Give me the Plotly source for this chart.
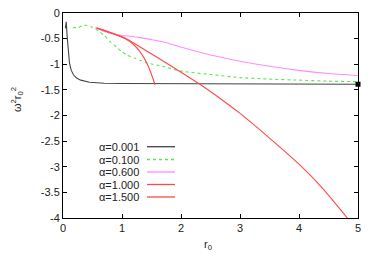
import plotly.graph_objects as go

# ---- data ----
x_a0001 = [0.04, 0.055, 0.07, 0.09, 0.11, 0.14, 0.18, 0.23, 0.3, 0.45, 0.7, 1.0, 2.0, 3.0, 4.0, 5.0]
y_a0001 = [-0.3, -0.17, -0.45, -0.8, -0.98, -1.12, -1.21, -1.27, -1.31, -1.35, -1.37, -1.375, -1.38, -1.385, -1.39, -1.39]

x_a0100 = [0.17, 0.25, 0.32, 0.40, 0.5, 0.59, 0.7, 0.79, 0.9, 0.99, 1.1, 1.21, 1.3, 1.41, 1.6, 1.72, 1.98, 2.5, 3.0, 3.5, 4.0, 4.5, 5.0]
y_a0100 = [-0.28, -0.29, -0.25, -0.24, -0.28, -0.34, -0.44, -0.55, -0.66, -0.75, -0.83, -0.88, -0.92, -0.97, -1.02, -1.05, -1.13, -1.2, -1.26, -1.29, -1.31, -1.33, -1.34]

x_a0600 = [0.54, 0.7, 0.88, 1.1, 1.3, 1.5, 1.72, 1.98, 2.5, 3.0, 3.5, 4.0, 4.5, 5.0]
y_a0600 = [-0.29, -0.36, -0.42, -0.45, -0.48, -0.52, -0.57, -0.66, -0.82, -0.94, -1.04, -1.12, -1.18, -1.22]

x_a1000 = [0.57, 0.8, 1.05, 1.2, 1.3, 1.38, 1.45, 1.5, 1.56]
y_a1000 = [-0.29, -0.38, -0.5, -0.62, -0.75, -0.89, -1.05, -1.2, -1.4]

x_a1500 = [0.57, 0.8, 1.05, 1.3, 1.6, 1.98, 2.32, 2.57, 2.99, 3.5, 4.01, 4.4, 4.82]
y_a1500 = [-0.29, -0.38, -0.49, -0.66, -0.87, -1.14, -1.39, -1.59, -1.95, -2.44, -2.96, -3.42, -4.0]

x_point = [5.0]
y_point = [-1.39]

labels = ["α=0.001", "α=0.100", "α=0.600", "α=1.000", "α=1.500"]
colors = ["#444444", "#55e855", "#ff8cff", "#ff4848", "#ff4848"]
dashes = ["solid", "dot", "solid", "solid", "solid"]
shapes = ["linear", "spline", "spline", "spline", "spline"]

xs = [x_a0001, x_a0100, x_a0600, x_a1000, x_a1500]
ys = [y_a0001, y_a0100, y_a0600, y_a1000, y_a1500]

fig = go.Figure()
for xv, yv, c, d, s in zip(xs, ys, colors, dashes, shapes):
    fig.add_trace(go.Scatter(x=xv, y=yv, mode="lines",
                             line=dict(color=c, width=1.1, dash=d, shape=s, smoothing=0.6),
                             showlegend=False, hoverinfo="skip"))
fig.add_trace(go.Scatter(x=x_point, y=y_point, mode="markers",
                         marker=dict(symbol="square", size=5, color="black"),
                         showlegend=False, cliponaxis=False))

# page offset of the figure inside the html body (default body margin)
OFF = 8
W, H = 374 - OFF, 262 - OFF
# desired plot area in page pixels: x 63..358, y 13..218
L, R, T, B = 63 - OFF, 374 - 358, 13 - OFF, 262 - 218
pw, ph = W - L - R, H - T - B

def px(xp):  # page x -> paper
    return (xp - OFF - L) / pw

def py(yp):  # page y -> paper
    return (H - B - (yp - OFF)) / ph

row_y = [146.7, 159.5, 172.0, 184.5, 197.0]
for lab, c, d, yy in zip(labels, colors, dashes, row_y):
    fig.add_annotation(x=px(141), y=py(yy), xref="paper", yref="paper",
                       text=lab, showarrow=False, xanchor="right", yanchor="middle",
                       font=dict(size=11, color="#222"))
    fig.add_shape(type="line", xref="paper", yref="paper",
                  x0=px(147), x1=px(175), y0=py(yy), y1=py(yy),
                  line=dict(color=c, width=1.3, dash=d))

# y axis label
fig.add_annotation(x=px(17), y=py(100), xref="paper", yref="paper",
                   text="ω<sup>2</sup>r<sub>0</sub><sup>2</sup>", textangle=-90,
                   showarrow=False, xanchor="center", yanchor="middle",
                   font=dict(size=11, color="#222"))
# x axis label
fig.add_annotation(x=px(208), y=py(245), xref="paper", yref="paper",
                   text="r<sub>0</sub>", showarrow=False,
                   xanchor="center", yanchor="middle",
                   font=dict(size=11, color="#222"))

axis_common = dict(showline=True, linecolor="black", linewidth=1, mirror="ticks",
                   ticks="inside", ticklen=4, tickcolor="black", showgrid=False,
                   zeroline=False, tickfont=dict(size=11, color="#222"),
                   ticklabeloverflow="allow")

fig.update_layout(
    width=W, height=H,
    margin=dict(l=L, r=R, t=T, b=B, autoexpand=False),
    paper_bgcolor="white", plot_bgcolor="white",
    font=dict(family="Liberation Sans, Arial, sans-serif", size=11, color="#222"),
    xaxis=dict(range=[0, 5], tickvals=[0, 1, 2, 3, 4, 5], **axis_common),
    yaxis=dict(range=[-4, 0], tickvals=[0, -0.5, -1, -1.5, -2, -2.5, -3, -3.5, -4],
               ticktext=["0", "-0.5", "-1", "-1.5", "-2", "-2.5", "-3", "-3.5", "-4"],
               **axis_common),
)

fig.write_html("out.html")
